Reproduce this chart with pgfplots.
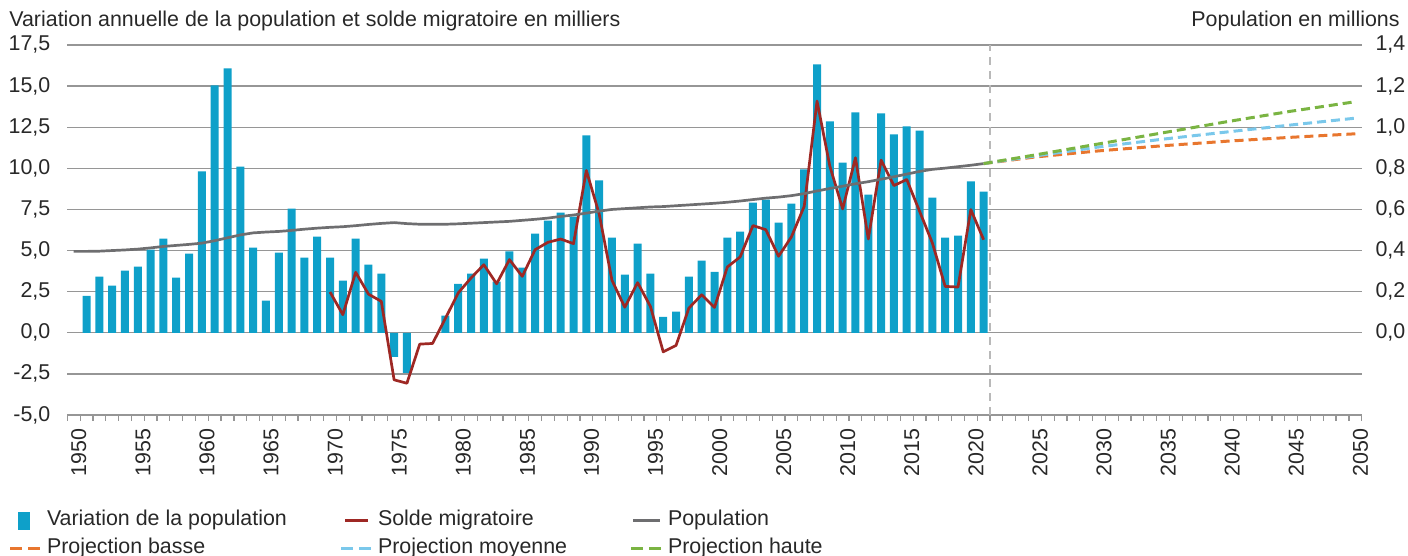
\documentclass[border=0pt]{standalone}
\usepackage{fontspec}
\setmainfont{Liberation Sans}
\usepackage{pgfplots}
\usepackage{pgfplotstable}
\pgfplotsset{compat=1.18}
\definecolor{barblue}{RGB}{14,160,201}
\definecolor{redline}{RGB}{158,40,36}
\definecolor{popgray}{RGB}{110,110,112}
\definecolor{projorange}{RGB}{232,118,46}
\definecolor{projblue}{RGB}{122,200,235}
\definecolor{projgreen}{RGB}{122,180,66}
\definecolor{gridgray}{RGB}{150,150,150}
\definecolor{dashgray}{RGB}{185,185,185}
\definecolor{textcol}{RGB}{40,40,40}
\newcommand\fs{\fontsize{10.7}{12.8}\selectfont}

\pgfplotstableread{
year var
1951 2.25
1952 3.41
1953 2.86
1954 3.78
1955 4.02
1956 5.05
1957 5.72
1958 3.35
1959 4.81
1960 9.81
1961 15.04
1962 16.08
1963 10.11
1964 5.18
1965 1.95
1966 4.87
1967 7.55
1968 4.57
1969 5.85
1970 4.57
1971 3.17
1972 5.72
1973 4.14
1974 3.59
1975 -1.46
1976 -2.44
1979 1.04
1980 2.98
1981 3.59
1982 4.51
1983 3.11
1984 4.95
1985 3.96
1986 6.03
1987 6.82
1988 7.31
1989 7.06
1990 12.00
1991 9.26
1992 5.79
1993 3.53
1994 5.42
1995 3.59
1996 0.97
1997 1.28
1998 3.41
1999 4.38
2000 3.71
2001 5.79
2002 6.15
2003 7.92
2004 8.10
2005 6.70
2006 7.86
2007 9.93
2008 16.32
2009 12.85
2010 10.35
2011 13.40
2012 8.40
2013 13.34
2014 12.06
2015 12.55
2016 12.30
2017 8.22
2018 5.79
2019 5.91
2020 9.20
2021 8.59
}\vardata

\pgfplotstableread{
year mig
1970 2.48
1971 1.10
1972 3.68
1973 2.35
1974 1.91
1975 -2.86
1976 -3.07
1977 -0.69
1978 -0.65
1979 0.87
1980 2.42
1981 3.33
1982 4.14
1983 2.98
1984 4.45
1985 3.43
1986 5.05
1987 5.50
1988 5.70
1989 5.42
1990 9.87
1991 7.23
1992 3.19
1993 1.55
1994 3.05
1995 1.60
1996 -1.16
1997 -0.77
1998 1.50
1999 2.31
2000 1.54
2001 4.00
2002 4.61
2003 6.52
2004 6.27
2005 4.65
2006 5.83
2007 7.69
2008 14.09
2009 10.13
2010 7.53
2011 10.64
2012 5.70
2013 10.50
2014 8.95
2015 9.32
2016 7.39
2017 5.46
2018 2.82
2019 2.78
2020 7.49
2021 5.66
}\migdata

\pgfplotstableread{
year pop
1950 0.396
1951 0.396
1952 0.397
1953 0.400
1954 0.403
1955 0.407
1956 0.413
1957 0.420
1958 0.425
1959 0.430
1960 0.436
1961 0.448
1962 0.462
1963 0.476
1964 0.486
1965 0.490
1966 0.493
1967 0.498
1968 0.504
1969 0.509
1970 0.513
1971 0.516
1972 0.521
1973 0.527
1974 0.532
1975 0.536
1976 0.531
1977 0.528
1978 0.528
1979 0.528
1980 0.530
1981 0.533
1982 0.536
1983 0.539
1984 0.542
1985 0.547
1986 0.552
1987 0.558
1988 0.566
1989 0.573
1990 0.582
1991 0.592
1992 0.600
1993 0.604
1994 0.608
1995 0.612
1996 0.614
1997 0.618
1998 0.622
1999 0.626
2000 0.630
2001 0.635
2002 0.641
2003 0.648
2004 0.655
2005 0.660
2006 0.667
2007 0.677
2008 0.690
2009 0.702
2010 0.713
2011 0.725
2012 0.735
2013 0.747
2014 0.759
2015 0.772
2016 0.785
2017 0.795
2018 0.801
2019 0.808
2020 0.815
2021 0.823
}\popdata

\pgfplotstableread{
year basse moyenne haute
2021 0.823 0.823 0.823
2025 0.855 0.860 0.865
2030 0.885 0.904 0.919
2035 0.910 0.942 0.973
2040 0.932 0.977 1.027
2045 0.951 1.011 1.078
2050 0.968 1.044 1.124
}\projdata

\begin{document}
\begin{tikzpicture}
\begin{axis}[
  at={(33.65pt,70.5pt)}, anchor=south west,
  scale only axis, width=647.2pt, height=185pt,
  xmin=1949.5, xmax=2050.5, ymin=-5, ymax=17.5,
  axis line style={draw=none},
  xtick pos=left, ytick pos=left,
  tick align=outside,
  major tick length=0pt, minor tick length=3pt,
  minor tick style={color=gridgray, line width=0.6pt},
  xtick={1950.4,1955.4,1960.4,1965.4,1970.4,1975.4,1980.4,1985.4,1990.4,1995.4,2000.4,2005.4,2010.4,2015.4,2020.4,2025.4,2030.4,2035.4,2040.4,2045.4,2050.4},
  xticklabels={1950,1955,1960,1965,1970,1975,1980,1985,1990,1995,2000,2005,2010,2015,2020,2025,2030,2035,2040,2045,2050},
  minor xtick={1949.5,1950.5,...,2050.5},
  xticklabel style={font=\fs, text=textcol, yshift=-6.5pt, rotate=90, anchor=east, inner sep=0pt},
  ytick={-5,-2.5,0,2.5,5,7.5,10,12.5,15,17.5},
  yticklabel style={font=\fs, text=textcol, inner sep=0pt, xshift=-8.3pt,
    /pgf/number format/.cd, use comma, fixed, fixed zerofill, precision=1, assume math mode=true},
  ymajorgrids, grid style={color=gridgray, line width=0.65pt},
  clip=false,
]
\addplot[ybar, bar width=4pt, fill=barblue, draw=none] table[x=year, y=var] {\vardata};
\addplot[dashgray, line width=0.8pt, dash pattern=on 4pt off 3pt] coordinates {(2021.5,-5) (2021.5,17.5)};
\addplot[redline, line width=1.35pt, line join=round] table[x=year, y=mig] {\migdata};
\end{axis}
\begin{axis}[
  at={(33.65pt,70.5pt)}, anchor=south west,
  scale only axis, width=647.2pt, height=185pt,
  xmin=1949.5, xmax=2050.5, ymin=-0.4, ymax=1.4,
  hide x axis,
  axis y line*=right, y axis line style={draw=none},
  major tick length=0pt,
  ytick={0,0.2,0.4,0.6,0.8,1.0,1.2,1.4},
  yticklabel style={font=\fs, text=textcol, inner sep=0pt, xshift=6.7pt,
    /pgf/number format/.cd, use comma, fixed, fixed zerofill, precision=1, assume math mode=true},
  legend columns=3, legend cell align=left,
  legend style={at={(-0.0458,-0.2586)}, anchor=north west, draw=none, fill=none,
    inner sep=0pt, outer sep=0pt, font=\fs, row sep=4pt,
    nodes={inner sep=0pt, text height=7.5pt, text depth=2.5pt, text=textcol}},
]
\addplot[popgray, line width=1.35pt, line join=round, forget plot] table[x=year, y=pop] {\popdata};
\addplot[projorange, line width=1.5pt, dash pattern=on 4.5pt off 2.5pt, forget plot] table[x=year, y=basse] {\projdata};
\addplot[projblue, line width=1.5pt, dash pattern=on 4.5pt off 2.5pt, forget plot] table[x=year, y=moyenne] {\projdata};
\addplot[projgreen, line width=1.5pt, dash pattern=on 4.5pt off 2.5pt, forget plot] table[x=year, y=haute] {\projdata};
\addlegendimage{legend image code/.code={\path[draw=none, fill=none] (0pt,-4.5pt) rectangle (19.5pt,4.5pt); \fill[barblue, draw=none] (5pt,-4.5pt) rectangle (11pt,4.5pt);}}
\addlegendentry{\makebox[146pt][l]{Variation de la population}}
\addlegendimage{legend image code/.code={\path[draw=none, fill=none] (0pt,-4.5pt) rectangle (19.5pt,4.5pt); \draw[redline, line width=1.35pt] (3pt,0pt) -- (14.5pt,0pt);}}
\addlegendentry{\makebox[125.5pt][l]{Solde migratoire}}
\addlegendimage{legend image code/.code={\path[draw=none, fill=none] (0pt,-4.5pt) rectangle (19.5pt,4.5pt); \draw[popgray, line width=1.5pt] (2pt,0pt) -- (15.5pt,0pt);}}
\addlegendentry{Population}
\addlegendimage{legend image code/.code={\path[draw=none, fill=none] (0pt,-4.5pt) rectangle (19.5pt,4.5pt); \draw[projorange, line width=1.5pt, dash pattern=on 6pt off 3pt] (1pt,0pt) -- (16pt,0pt);}}
\addlegendentry{\makebox[146pt][l]{Projection basse}}
\addlegendimage{legend image code/.code={\path[draw=none, fill=none] (0pt,-4.5pt) rectangle (19.5pt,4.5pt); \draw[projblue, line width=1.5pt, dash pattern=on 6pt off 3pt] (1pt,0pt) -- (16pt,0pt);}}
\addlegendentry{\makebox[125.5pt][l]{Projection moyenne}}
\addlegendimage{legend image code/.code={\path[draw=none, fill=none] (0pt,-4.5pt) rectangle (19.5pt,4.5pt); \draw[projgreen, line width=1.5pt, dash pattern=on 6pt off 3pt] (1pt,0pt) -- (16pt,0pt);}}
\addlegendentry{Projection haute}
\end{axis}
\node[anchor=base west, font=\fs, text=textcol, inner sep=0pt] at (4.5pt,264.5pt) {Variation annuelle de la population et solde migratoire en milliers};
\node[anchor=base east, font=\fs, text=textcol, inner sep=0pt] at (700pt,264.5pt) {Population en millions};
\pgfresetboundingbox
\path[use as bounding box] (0pt,0pt) rectangle (704pt,278pt);
\end{tikzpicture}
\end{document}
